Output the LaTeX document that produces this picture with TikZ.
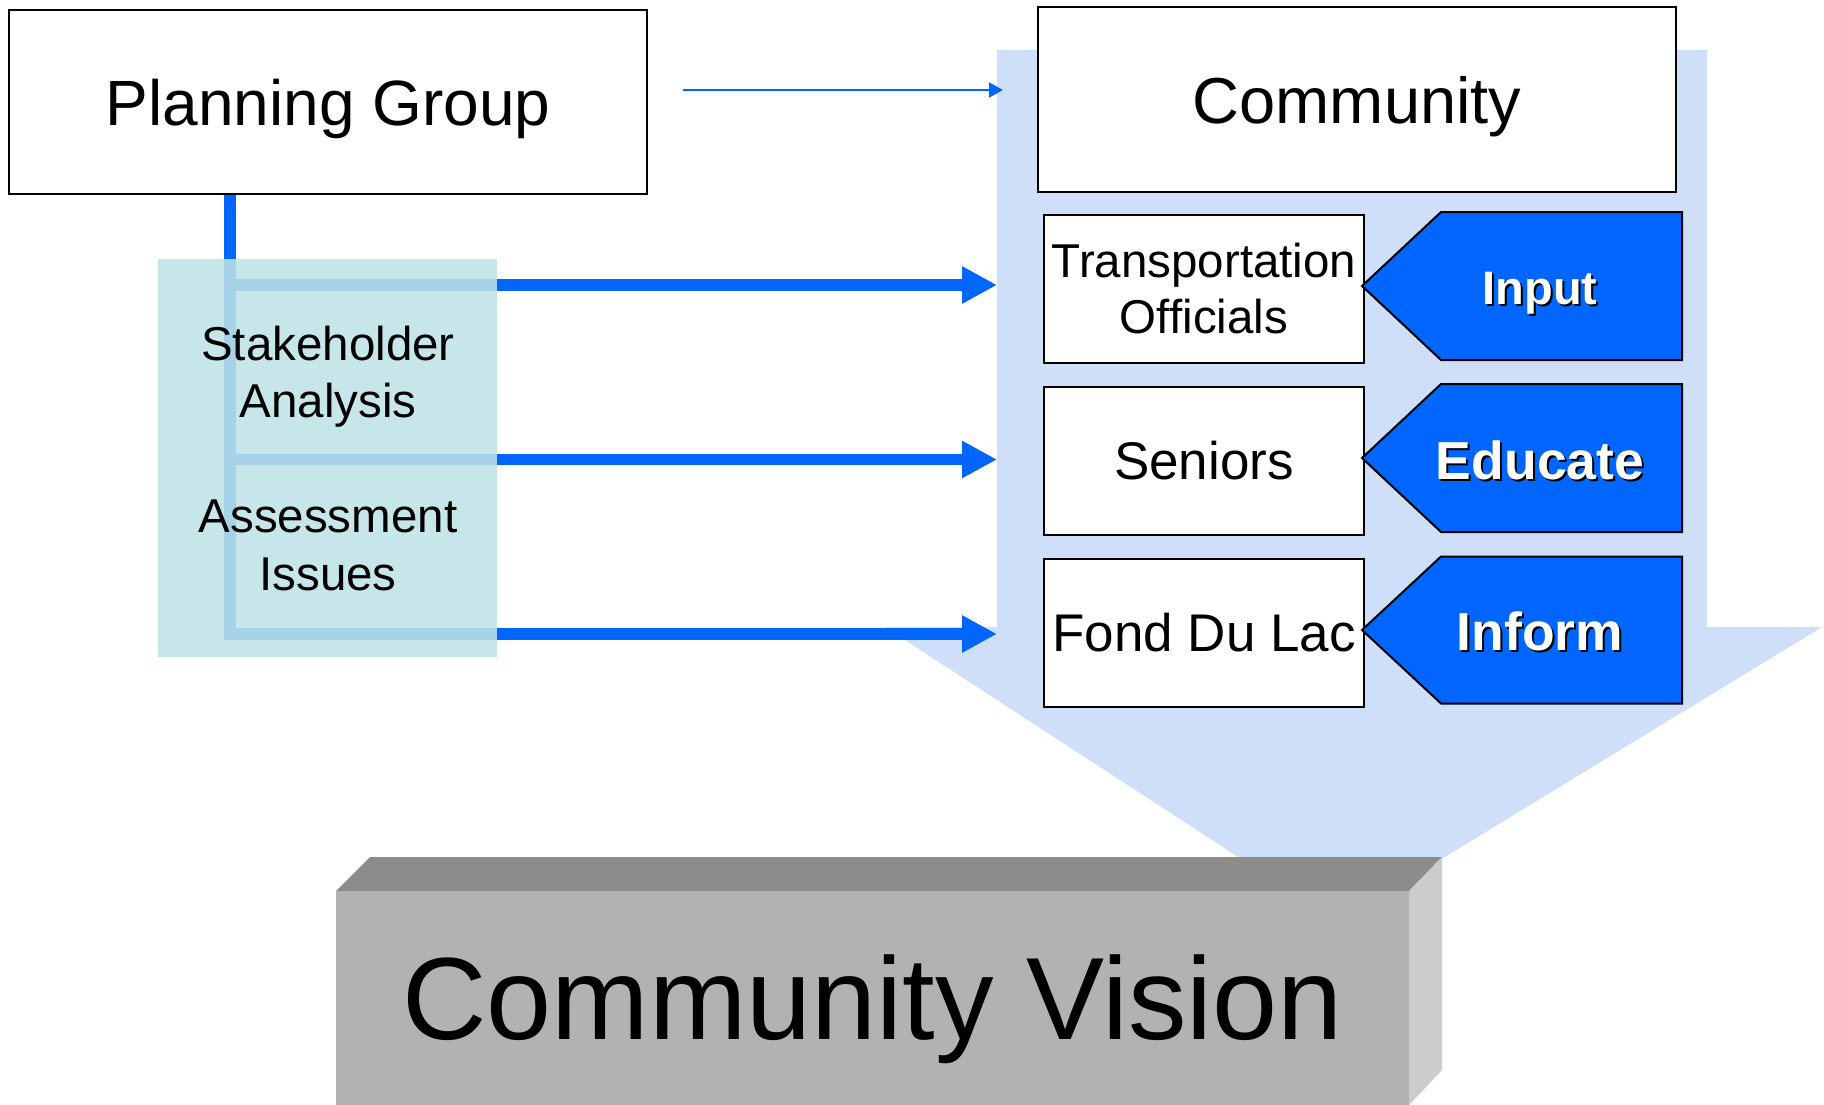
\documentclass[tikz,border=0pt]{standalone}
\usepackage{fontspec}
\setmainfont{Liberation Sans}
\usetikzlibrary{arrows.meta}
\definecolor{pblue}{RGB}{0,102,255}
\definecolor{tealbox}{RGB}{191,227,230}
\definecolor{bgarrow}{RGB}{207,223,250}
\definecolor{gtop}{RGB}{140,140,140}
\definecolor{gfront}{RGB}{178,178,178}
\definecolor{gside}{RGB}{204,204,204}
\begin{document}
\begin{tikzpicture}[x=1pt,y=-1pt,
  wbox/.style={draw=black, line width=2pt, fill=white, inner sep=0pt, outer sep=0pt},
  capbox/.style={text height=#1, text depth=0pt},
  fbig/.style={font={\fontsize{64}{77}\selectfont}},
  fmid/.style={font={\fontsize{47.5}{57}\selectfont}},
  fsen/.style={font={\fontsize{53}{64}\selectfont}},
  thickarrow/.style={draw=pblue, line width=11.5pt, -{Triangle[length=35pt,width=35pt]}},
  thinarrow/.style={draw=pblue, line width=2pt, -{Triangle[length=14pt,width=15pt]}},
  pent/.style={fill=pblue, draw=black, line width=2pt, line join=miter},
  btxt/.style={text=white, inner sep=0pt, anchor=base},
  bshadow/.style={text=black, inner sep=0pt, anchor=base},
  ltxt/.style={fmid, inner sep=0pt, anchor=base}
]
\useasboundingbox (0,0) rectangle (1824,1105);
\fill[white] (0,0) rectangle (1824,1105);

% large background arrow
\fill[bgarrow] (997,50) -- (1707,50) -- (1707,627) -- (1822,627) -- (1338,922) -- (885,627) -- (997,627) -- cycle;

% coordinates for connectors
\coordinate (thinS) at (683,90);
\coordinate (thinE) at (1003,90);
\coordinate (trunkTop) at (230,193);
\coordinate (trunkBot) at (230,640);
\coordinate (s1) at (224,285);
\coordinate (e1) at (997,285);
\coordinate (s2) at (224,459.5);
\coordinate (e2) at (997,459.5);
\coordinate (s3) at (224,634);
\coordinate (e3) at (997,634);

% thin arrow planning -> community
\draw[thinarrow] (thinS) -- (thinE);

% trunk and thick arrows
\draw[draw=pblue, line width=12pt] (trunkTop) -- (trunkBot);
\draw[thickarrow] (s1) -- (e1);
\draw[thickarrow] (s2) -- (e2);
\draw[thickarrow] (s3) -- (e3);

% teal box
\node[fill=tealbox, fill opacity=0.88, inner sep=0pt, minimum width=339pt, minimum height=398pt] (stk) at (327.5,458) {};
\node[ltxt] (stk1) at (328,360) {Stakeholder};
\node[ltxt] (stk2) at (328,417) {Analysis};
\node[ltxt] (ass1) at (328,532.7) {Assessment};
\node[ltxt] (ass2) at (328,590) {Issues};

% planning group
\node[wbox, fbig, capbox=45.8pt, minimum width=637.5pt, minimum height=184pt] (pg) at (328,102.4) {Planning Group};

% community
\node[wbox, font={\fontsize{65}{78}\selectfont}, capbox=46.5pt, minimum width=638pt, minimum height=185pt] (com) at (1357,99.8) {Community};

% stakeholder boxes
\node[wbox, minimum width=320pt, minimum height=148pt] (trans) at (1204,289) {};
\node[ltxt] (trans1) at (1204,277.3) {Transportation};
\node[ltxt] (trans2) at (1204,333.3) {Officials};
\node[wbox, fsen, capbox=37.9pt, minimum width=320pt, minimum height=148pt] (sen) at (1204,461) {Seniors};
\node[wbox, fsen, capbox=37.9pt, minimum width=320pt, minimum height=148pt] (fdl) at (1204,633) {Fond Du Lac};

% blue pentagons
\path[pent] (1682,212) -- (1441,212) -- (1362,286) -- (1441,360) -- (1682,360) -- cycle;
\path[pent] (1682,384) -- (1441,384) -- (1362,458) -- (1441,532) -- (1682,532) -- cycle;
\path[pent] (1682,556.5) -- (1441,556.5) -- (1362,630) -- (1441,703.5) -- (1682,703.5) -- cycle;

\node[bshadow, font={\bfseries\fontsize{47}{56}\selectfont}] (inS) at (1542,306) {Input};
\node[btxt, font={\bfseries\fontsize{47}{56}\selectfont}] (in) at (1540,304) {Input};
\node[bshadow, font={\bfseries\fontsize{53.5}{64}\selectfont}] (edS) at (1542,481) {Educate};
\node[btxt, font={\bfseries\fontsize{53.5}{64}\selectfont}] (ed) at (1540,479) {Educate};
\node[bshadow, font={\bfseries\fontsize{53.5}{64}\selectfont}] (infS) at (1542,652.5) {Inform};
\node[btxt, font={\bfseries\fontsize{53.5}{64}\selectfont}] (inf) at (1540,650.5) {Inform};

% community vision block
\fill[gtop] (336,891) -- (370,857) -- (1442,857) -- (1409,891) -- cycle;
\fill[gside] (1409,891) -- (1442,857) -- (1442,1070) -- (1409,1105) -- cycle;
\node[fill=gfront, inner sep=0pt, outer sep=0pt, minimum width=1073pt, minimum height=214pt,
      font={\fontsize{117}{140}\selectfont}, capbox=83.8pt] (cv) at (872.5,998) {Community Vision};
\end{tikzpicture}
\end{document}
